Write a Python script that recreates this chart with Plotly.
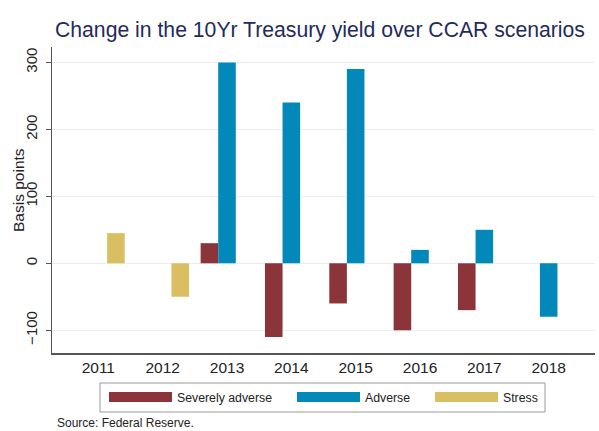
import plotly.graph_objects as go

years = ["2011", "2012", "2013", "2014", "2015", "2016", "2017", "2018"]
severely_adverse = [None, None, 30, -110, -60, -100, -70, None]
adverse = [None, None, 300, 240, 290, 20, 50, -80]
stress = [45, -50, None, None, None, None, None, None]
series_names = ["Severely adverse", "Adverse", "Stress"]
y_ticks = [-100, 0, 100, 200, 300]

colors = ["#8B3439", "#0289BA", "#D9BF62"]

W, H = 599, 431
L, R, T, B = 52, 4, 47, 78
pw, ph = W - L - R, H - T - B


def px_x(px):
    return (px - L) / pw


def px_y(py):
    return (H - B - py) / ph


legend_ids = ["legend", "legend2", "legend3"]
legend_left_px = [104, 292, 430]

fig = go.Figure()
for name, vals, col, lid in zip(series_names, [severely_adverse, adverse, stress], colors, legend_ids):
    fig.add_trace(go.Bar(x=years, y=vals, name=name, marker=dict(color=col, line=dict(width=0)),
                         showlegend=False))
    fig.add_trace(go.Scatter(x=[None], y=[None], mode="lines", name=name, legend=lid,
                             line=dict(color=col, width=15), showlegend=True))

legend_common = dict(orientation="h", yanchor="middle", y=px_y(397), xanchor="left",
                     borderwidth=0, bgcolor="rgba(0,0,0,0)",
                     font=dict(size=12.3, color="#222"), itemwidth=63)

fig.update_layout(
    width=W, height=H,
    margin=dict(l=L, r=R, t=T, b=B, autoexpand=False),
    paper_bgcolor="white", plot_bgcolor="white",
    barmode="group", bargap=0.18, bargroupgap=0,
    font=dict(family="Liberation Sans, Arial, sans-serif", color="#222", size=13),
    title=dict(text="Change in the 10Yr Treasury yield over CCAR scenarios",
               font=dict(size=21.2, color="#1F2B5B"),
               xref="container", x=55/W, xanchor="left",
               yref="container", y=1-30/H, yanchor="middle"),
    xaxis=dict(type="category", range=[-0.72, 7.72], showline=True, linecolor="#555",
               linewidth=1.5, ticks="", showgrid=False, automargin=False,
               tickfont=dict(size=15.5, color="#222")),
    yaxis=dict(range=[-134, 323], tickvals=y_ticks, showline=True, linecolor="#555",
               linewidth=1.2, ticks="outside", ticklen=5, tickcolor="#555",
               tickangle=-90, showgrid=True, gridcolor="#E8EFEF", gridwidth=1,
               zeroline=False, automargin=False, ticklabelstandoff=3,
               tickfont=dict(size=15, color="#222")),
    legend=dict(x=px_x(legend_left_px[0]), **legend_common),
    legend2=dict(x=px_x(legend_left_px[1]), **legend_common),
    legend3=dict(x=px_x(legend_left_px[2]), **legend_common),
)

# y-axis title
fig.add_annotation(text="Basis points", xref="paper", yref="paper", x=px_x(18), y=px_y(190),
                   xanchor="center", yanchor="middle", textangle=-90, showarrow=False,
                   font=dict(size=15.5, color="#222"))

# legend frame
fig.add_shape(type="rect", xref="paper", yref="paper",
              x0=px_x(100), x1=px_x(545), y0=px_y(412), y1=px_y(383),
              line=dict(color="#9a9a9a", width=1), fillcolor="rgba(0,0,0,0)", layer="above")

fig.add_annotation(text="Source: Federal Reserve.", xref="paper", yref="paper",
                   x=px_x(55), y=px_y(423), xanchor="left", yanchor="middle",
                   showarrow=False, font=dict(size=12, color="#222"))

fig.write_html("out.html", config={"displayModeBar": False},
               post_script="document.body.style.margin='0px';")
